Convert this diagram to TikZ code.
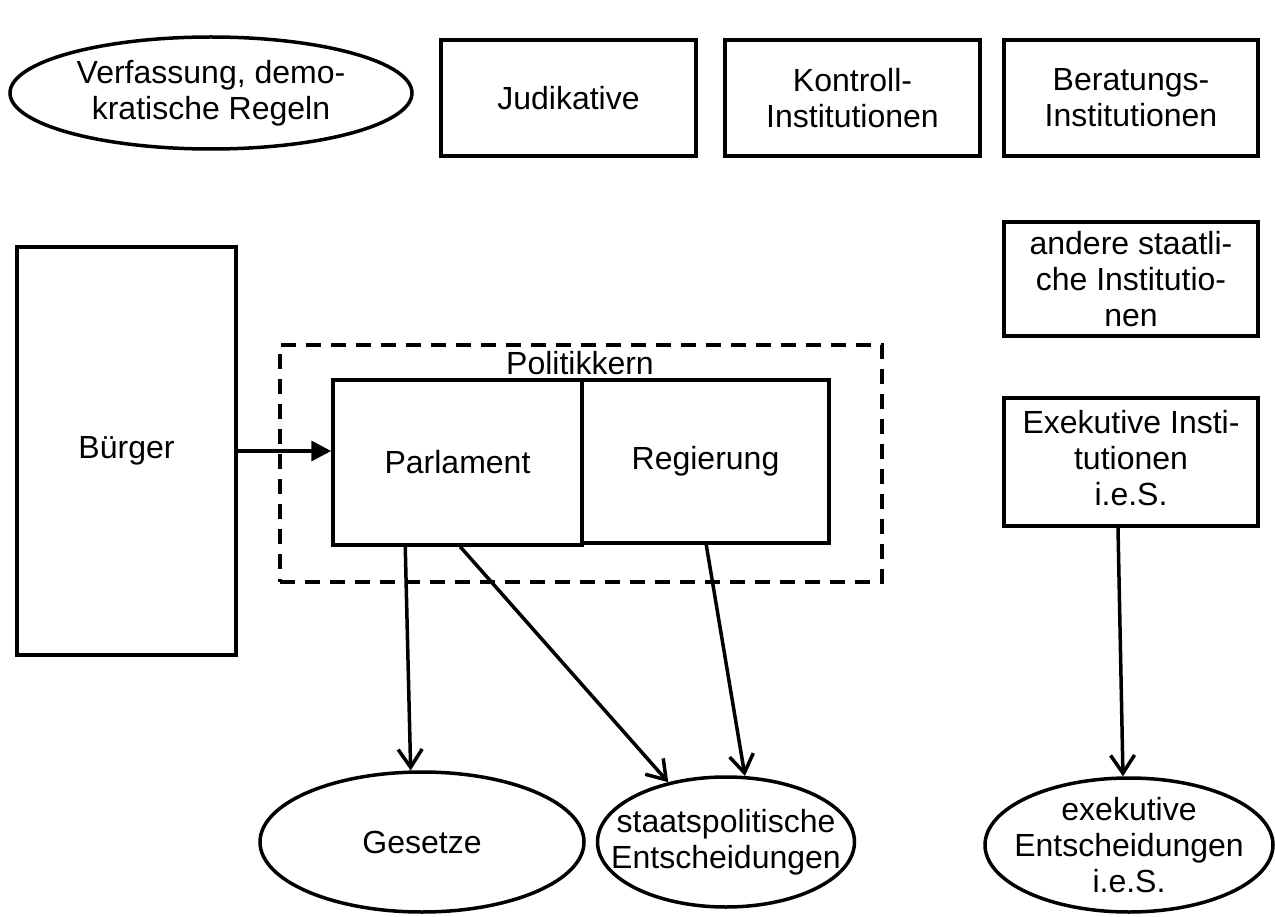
\documentclass[tikz,border=0pt]{standalone}
\usepackage{fontspec}
\setmainfont{Liberation Sans}
\usetikzlibrary{arrows.meta,shapes.geometric}
\begin{document}
\begin{tikzpicture}[x=1pt,y=-1pt, line width=3.5pt,
  every node/.style={font=\fontsize{32}{36}\selectfont, align=center},
  box/.style={draw, rectangle, inner sep=0pt},
  ell/.style={draw, ellipse, inner sep=0pt},
  arr/.style={-{Straight Barb[length=18pt,width=24pt]}},
  fillarr/.style={-{Triangle[length=20pt,width=20pt]}}]
\useasboundingbox (0,0) rectangle (1275,917);
% top row
\node[ell, minimum width=402pt, minimum height=112pt] (verf) at (211,93) {};
\node (verflabel) at (verf) {Verfassung, demo-\\kratische Regeln};
\node[box, minimum width=255pt, minimum height=116pt] (jud) at (568.5,98) {\raisebox{-4pt}{Judikative}};
\node[box, minimum width=255pt, minimum height=116pt] (kon) at (852.5,98) {Kontroll-\\Institutionen};
\node[box, minimum width=254pt, minimum height=116pt] (ber) at (1131,98) {Beratungs-\\Institutionen};
% right column
\node[box, minimum width=254pt, minimum height=114pt] (andi) at (1131,279) {andere staatli-\\che Institutio-\\nen};
\node[box, minimum width=254pt, minimum height=128pt] (exi) at (1131,462) {\raisebox{6pt}{\begin{tabular}{@{}c@{}}Exekutive Insti-\\tutionen\\i.e.S.\end{tabular}}};
% left
\node[box, minimum width=219pt, minimum height=408pt] (bue) at (126.5,451) {Bürger};
% Politikkern
\node[box, dashed, dash pattern=on 15pt off 10pt, minimum width=602pt, minimum height=237pt] (kern) at (581,463.5) {};
\node (kernlabel) at (580,363) {Politikkern};
\node[box, minimum width=249pt, minimum height=165pt] (parl) at (457.5,462.5) {\raisebox{-6pt}{Parlament}};
\node[box, minimum width=247pt, minimum height=163pt] (reg) at (705.5,461.5) {Regierung};
% bottom ellipses
\node[ell, minimum width=324pt, minimum height=140pt] (ges) at (422,842) {};
\node (geslabel) at (ges) {Gesetze};
\node[ell, minimum width=257pt, minimum height=130pt] (sta) at (726,842) {};
\node (stalabel) at (sta) {staatspolitische\\Entscheidungen};
\node[ell, minimum width=288pt, minimum height=134pt] (exe) at (1129,845) {};
\node (exelabel) at (exe) {exekutive\\Entscheidungen\\i.e.S.};
% connectors
\draw[fillarr] (bue.east) -- (bue.east -| parl.west);
\draw[arr] ([xshift=74pt]parl.south west) -- (ges.99);
\draw[arr] ([xshift=129pt]parl.south west) -- (sta.134);
\draw[arr] ([xshift=126pt]reg.south west) -- (sta.74);
\draw[arr] ([xshift=-13pt]exi.south) -- (exe.95);
\end{tikzpicture}
\end{document}
